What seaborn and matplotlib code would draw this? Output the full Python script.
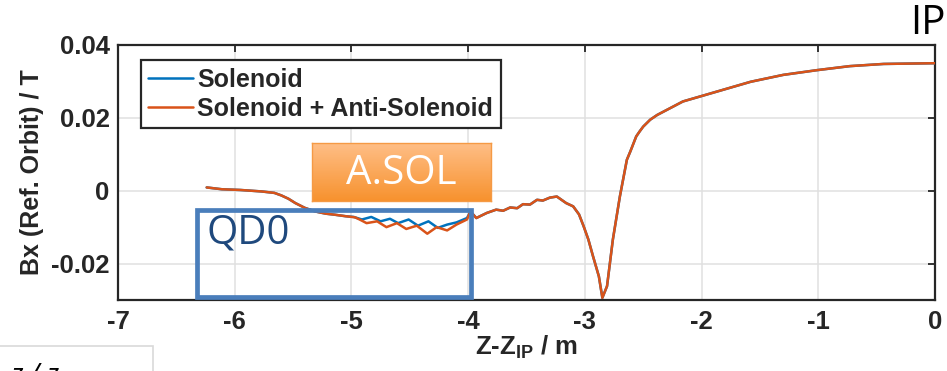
import numpy as np
import pandas as pd
import matplotlib
matplotlib.use("Agg")
import matplotlib.pyplot as plt
import matplotlib.patches as mpatches
from matplotlib.colors import LinearSegmentedColormap
from matplotlib.lines import Line2D
import seaborn as sns

# ---------------- data ----------------
z_left = [-6.24, -6.11, -5.95, -5.77, -5.66, -5.60, -5.54, -5.48, -5.40, -5.31,
          -5.22, -5.14, -5.05]
bx_left = [0.0009, 0.0004, 0.0002, -0.0002, -0.0006, -0.0013, -0.0022, -0.0034,
           -0.0047, -0.0057, -0.0063, -0.0066, -0.0070]

z_qd0_sol = [-4.98, -4.91, -4.83, -4.75, -4.67, -4.60, -4.51, -4.43, -4.34,
             -4.26, -4.18, -4.10, -4.01]
bx_qd0_sol = [-0.0072, -0.0079, -0.0072, -0.0084, -0.0077, -0.0089, -0.0079,
              -0.0096, -0.0084, -0.0102, -0.0093, -0.0087, -0.0075]

z_qd0_anti = [-4.97, -4.93, -4.87, -4.78, -4.70, -4.61, -4.53, -4.44, -4.35,
              -4.27, -4.18, -4.10, -4.01]
bx_qd0_anti = [-0.0073, -0.0079, -0.0089, -0.0084, -0.0100, -0.0089, -0.0105,
               -0.0096, -0.0118, -0.0100, -0.0109, -0.0093, -0.0079]

z_right = [-3.98, -3.93, -3.84, -3.76, -3.70, -3.64, -3.58, -3.53, -3.47, -3.41,
           -3.36, -3.30, -3.24, -3.16, -3.10, -3.05, -3.01, -2.97, -2.93, -2.88,
           -2.85, -2.81, -2.76, -2.70, -2.64, -2.61, -2.56, -2.53, -2.50, -2.44,
           -2.38, -2.16, -1.87, -1.58, -1.30, -1.01, -0.73, -0.44, 0.0]
bx_right = [-0.0057, -0.0075, -0.0061, -0.0052, -0.0055, -0.0046, -0.0048, -0.0037,
            -0.0038, -0.0025, -0.0027, -0.0019, -0.0016, -0.0034, -0.0043, -0.0065,
            -0.0098, -0.0134, -0.0180, -0.0235, -0.0294, -0.0262, -0.0134, -0.0016,
            0.0085, 0.0108, 0.0149, 0.0163, 0.0176, 0.0195, 0.0208, 0.0245, 0.0272,
            0.0299, 0.0318, 0.0331, 0.0342, 0.0348, 0.0350]

series_names = ["Solenoid", "Solenoid + Anti-Solenoid"]
series_colors = ["#0072BD", "#D95319"]
x_ticks = [-7, -6, -5, -4, -3, -2, -1, 0]
y_ticks = [-0.02, 0, 0.02, 0.04]
y_tick_labels = ["-0.02", "0", "0.02", "0.04"]

# ---------------- table ----------------
z_sol = z_left + z_qd0_sol + z_right
bx_sol = bx_left + bx_qd0_sol + bx_right
z_anti = z_left + z_qd0_anti + z_right
bx_anti = bx_left + bx_qd0_anti + bx_right
df = pd.DataFrame({
    "z": z_sol + z_anti,
    "bx": bx_sol + bx_anti,
    "series": [series_names[0]] * len(z_sol) + [series_names[1]] * len(z_anti),
})

# ---------------- style ----------------
sns.set_theme(style="white")
plt.rcParams["font.family"] = ["Liberation Sans", "DejaVu Sans"]
plt.rcParams["font.weight"] = "bold"
plt.rcParams["axes.unicode_minus"] = False
plt.rcParams["mathtext.fontset"] = "custom"
plt.rcParams["mathtext.rm"] = "Liberation Sans:bold"
plt.rcParams["mathtext.bf"] = "Liberation Sans:bold"
plt.rcParams["mathtext.it"] = "Liberation Sans:bold"

W, H = 947, 371
fig = plt.figure(figsize=(W / 100, H / 100), dpi=100)
fig.patch.set_facecolor("white")

def fx(px):
    return px / W

def fy(py):
    return 1 - py / H

ax = fig.add_axes([fx(118), fy(300), fx(935) - fx(118), fy(45) - fy(300)])

sns.lineplot(data=df, x="z", y="bx", hue="series", hue_order=series_names,
             palette=series_colors, sort=False, estimator=None, linewidth=1.8,
             legend=False, ax=ax, zorder=3)

ax.set_xlim(-7, 0)
ax.set_ylim(-0.03, 0.04)
ax.set_xticks(x_ticks)
ax.set_xticklabels([str(t) for t in x_ticks])
ax.set_yticks(y_ticks)
ax.set_yticklabels(y_tick_labels)
ax.grid(True, color="#e0e0e0", linewidth=1.1, zorder=0)
ax.set_axisbelow(True)
for sp in ax.spines.values():
    sp.set_color("#262626")
    sp.set_linewidth(1.6)
    sp.set_visible(True)
ax.tick_params(direction="in", length=5, width=1.3, color="#262626",
               top=True, right=True, labelsize=18.5, labelcolor="#262626")
ax.tick_params(axis="x", pad=7)
ax.tick_params(axis="y", pad=6)
for lab in ax.get_xticklabels() + ax.get_yticklabels():
    lab.set_fontweight("bold")

ax.set_xlabel(r"Z-Z$_{\mathbf{IP}}$ / m", fontsize=18.5, fontweight="bold",
              color="#262626", labelpad=0)
ax.set_ylabel("Bx (Ref. Orbit) / T", fontsize=18, fontweight="bold",
              color="#262626", labelpad=5)

handles = [Line2D([0], [0], color=c, lw=1.8) for c in series_colors]
leg = ax.legend(handles, series_names, loc="upper left",
                bbox_to_anchor=(0.028, 0.941), borderaxespad=0,
                fancybox=False, framealpha=1, edgecolor="#262626",
                handlelength=1.8, handletextpad=0.15,
                borderpad=0.3, labelspacing=0.2,
                prop={"weight": "bold", "size": 18})
leg.get_frame().set_linewidth(1.6)
leg.set_zorder(5)

# ---------------- A.SOL gradient box ----------------
bx0, by0, bx1, by1 = 312, 143, 491, 201
axg = fig.add_axes([fx(bx0), fy(by1), fx(bx1) - fx(bx0), fy(by0) - fy(by1)])
cmap = LinearSegmentedColormap.from_list("g", ["#FFBF88", "#F7922E"])
grad = np.linspace(0, 1, 100).reshape(-1, 1)
axg.imshow(grad, aspect="auto", cmap=cmap, extent=[0, 1, 0, 1], origin="upper")
axg.set_xlim(0, 1)
axg.set_ylim(0, 1)
axg.set_xticks([])
axg.set_yticks([])
for sp in axg.spines.values():
    sp.set_color("#F59A45")
    sp.set_linewidth(1.0)
axg.text(0.5, 0.47, "A.SOL", color="white", fontsize=29, fontfamily="Open Sans",
         fontweight="normal", ha="center", va="center", transform=axg.transAxes)

# ---------------- QD0 box ----------------
rect = mpatches.Rectangle((fx(197), fy(297)), fx(471) - fx(197), fy(210) - fy(297),
                          transform=fig.transFigure, fill=False,
                          edgecolor="#4A7EBB", linewidth=3.4, zorder=10)
fig.add_artist(rect)
fig.text(fx(206), fy(233), "QD0", color="#1F497D", fontsize=29,
         fontfamily="Open Sans", fontweight="normal", ha="left", va="center")

# ---------------- IP label and cut-off fragments ----------------
fig.text(fx(946), fy(4), "IP", color="black", fontsize=29, fontfamily="Open Sans",
         fontweight="normal", ha="right", va="top")
frag = mpatches.Rectangle((fx(-2), fy(373)), fx(153) - fx(-2), fy(346) - fy(373),
                          transform=fig.transFigure, fill=False,
                          edgecolor="#d9d9d9", linewidth=1.2)
fig.add_artist(frag)
fig.text(fx(10), fy(383), "z / z", color="black", fontsize=20,
         fontfamily="Open Sans", fontweight="normal", fontstyle="italic",
         ha="left", va="baseline")

fig.savefig("out.png", dpi=100)
